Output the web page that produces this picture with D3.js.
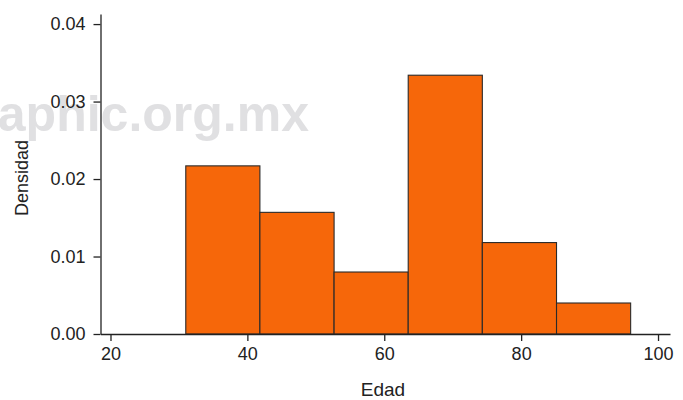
<!DOCTYPE html>
<html>
<head>
<meta charset="utf-8">
<script src="https://cdn.jsdelivr.net/npm/d3@7"></script>
<style>
  body { margin: 0; background: #fff; }
  text { font-family: "Liberation Sans", Arial, Helvetica, sans-serif; }
</style>
</head>
<body>
<div class="canvas"></div>
<script>
// histogram bins (Edad) and their densities
const binStarts = [31, 41.83, 52.67, 63.5, 74.33, 85.17]
const binEnds   = [41.83, 52.67, 63.5, 74.33, 85.17, 96]
const densities = [0.0217, 0.0157, 0.0080, 0.0334, 0.0118, 0.0040]
const xTicks = [20, 40, 60, 80, 100]
const yTicks = [0, 0.01, 0.02, 0.03, 0.04]

const data = binStarts.map((s, i) => ({x0: s, x1: binEnds[i], d: densities[i]}))

const svg = d3.select('.canvas').append('svg').attr('width', 683).attr('height', 400)

const x = d3.scaleLinear()
    .domain([18.54, 101.75])
    .range([100.5, 670])

const y = d3.scaleLinear()
    .domain([0, 0.0413])
    .range([334, 14])

// watermark behind everything
svg.append('text')
    .attr('x', 309)
    .attr('y', 131)
    .attr('text-anchor', 'end')
    .attr('font-size', 50)
    .attr('font-weight', 'bold')
    .attr('fill', '#e0e0e2')
    .text('aphic.org.mx')

svg.append('g').selectAll('rect')
    .data(data)
    .enter()
    .append('rect')
        .attr('x', d => x(d.x0))
        .attr('width', d => x(d.x1) - x(d.x0))
        .attr('y', d => y(d.d))
        .attr('height', d => y(0) - y(d.d))
        .attr('fill', '#f6670a')
        .attr('stroke', '#2a2a2a')
        .attr('stroke-width', 1.1)

const xAxis = d3.axisBottom(x).tickValues(xTicks).tickSize(7).tickSizeOuter(0).tickPadding(6)
const yAxis = d3.axisLeft(y).tickValues(yTicks).tickSize(7).tickSizeOuter(0).tickPadding(8).tickFormat(d3.format('.2f'))

const xg = svg.append('g').attr('transform', 'translate(0, 334)').call(xAxis)
const yg = svg.append('g').attr('transform', 'translate(100.5, 0)').call(yAxis)

;[xg, yg].forEach(g => {
    g.selectAll('path, line').attr('stroke', '#222').attr('stroke-width', 1.3)
    g.selectAll('text').attr('fill', '#222').attr('font-size', 18)
        .attr('font-family', '"Liberation Sans", Arial, Helvetica, sans-serif')
})

svg.append('text')
    .attr('x', 383)
    .attr('y', 396)
    .attr('text-anchor', 'middle')
    .attr('font-size', 19)
    .attr('fill', '#222')
    .text('Edad')

svg.append('text')
    .attr('transform', 'translate(28, 178) rotate(-90)')
    .attr('text-anchor', 'middle')
    .attr('font-size', 18)
    .attr('fill', '#222')
    .text('Densidad')
</script>
</body>
</html>
